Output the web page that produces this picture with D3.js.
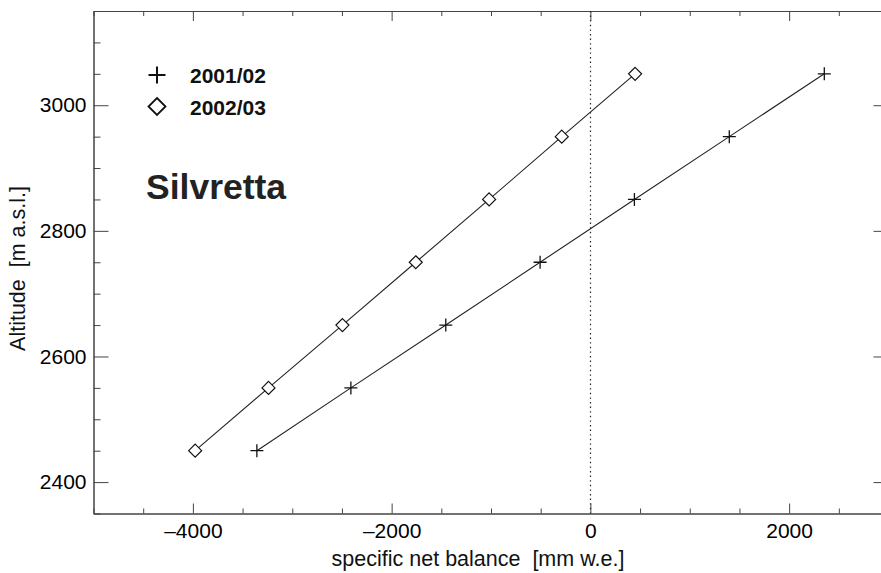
<!DOCTYPE html>
<html><head><meta charset="utf-8">
<script src="https://cdn.jsdelivr.net/npm/d3@7"></script>
<style>body{margin:0;background:#fff;overflow:hidden}</style>
</head><body><svg id="c" width="881" height="573"></svg>
<script>
const altitudes = [2450, 2550, 2650, 2750, 2850, 2950, 3050];
const balance0102 = [-3356, -2410, -1455, -506, 443, 1398, 2354];
const balance0203 = [-3977, -3239, -2495, -1757, -1019, -288, 450];
const seriesNames = ["2001/02", "2002/03"];
const xMajorTicks = [-4000, -2000, 0, 2000];
const yMajorTicks = [2400, 2600, 2800, 3000];
const xDomain = [-5000, 3000];
const yDomain = [2350, 3150];
const glacierName = "Silvretta";
const xTitle = "specific net balance  [mm w.e.]";
const yTitle = "Altitude  [m a.s.l.]";

const FONT = "'Liberation Sans', Arial, Helvetica, sans-serif";
const svg = d3.select("#c");
const L = 93.5, R = 888.5, T = 11, B = 513.5;
const x = d3.scaleLinear().domain(xDomain).range([L, R]);
const y = d3.scaleLinear().domain(yDomain).range([B, T]);

const xMinor = d3.range(xDomain[0], xDomain[1] + 1, 500).filter(v => !xMajorTicks.includes(v));
const yMinor = d3.range(yDomain[0], yDomain[1] + 1, 50).filter(v => !yMajorTicks.includes(v));

function styleAxis(g) {
  g.attr("font-family", FONT).attr("font-size", 21);
  g.selectAll("path.domain").attr("stroke", "#444").attr("stroke-width", 1);
  g.selectAll(".tick line").attr("stroke", "#444").attr("stroke-width", 1);
  g.selectAll(".tick text").attr("fill", "#000");
}
const fmt = d => d < 0 ? "\u2013" + Math.abs(d) : String(d);

// bottom
svg.append("g").attr("transform", `translate(0,${B})`)
  .call(d3.axisBottom(x).tickValues(xMajorTicks).tickSizeInner(-10).tickSizeOuter(0).tickPadding(10).tickFormat(fmt))
  .call(styleAxis);
svg.append("g").attr("transform", `translate(0,${B})`)
  .call(d3.axisBottom(x).tickValues(xMinor).tickSizeInner(-5).tickSizeOuter(0).tickFormat(""))
  .call(styleAxis);
// top
svg.append("g").attr("transform", `translate(0,${T})`)
  .call(d3.axisTop(x).tickValues(xMajorTicks).tickSizeInner(-10).tickSizeOuter(0).tickFormat(""))
  .call(styleAxis);
svg.append("g").attr("transform", `translate(0,${T})`)
  .call(d3.axisTop(x).tickValues(xMinor).tickSizeInner(-5).tickSizeOuter(0).tickFormat(""))
  .call(styleAxis);
// left
svg.append("g").attr("transform", `translate(${L},0)`)
  .call(d3.axisLeft(y).tickValues(yMajorTicks).tickSizeInner(-15).tickSizeOuter(0).tickPadding(7).tickFormat(d3.format("d")))
  .call(styleAxis);
svg.append("g").attr("transform", `translate(${L},0)`)
  .call(d3.axisLeft(y).tickValues(yMinor).tickSizeInner(-7).tickSizeOuter(0).tickFormat(""))
  .call(styleAxis);
// right
svg.append("g").attr("transform", `translate(${R},0)`)
  .call(d3.axisRight(y).tickValues(yMajorTicks).tickSizeInner(-15).tickSizeOuter(0).tickFormat(""))
  .call(styleAxis);
svg.append("g").attr("transform", `translate(${R},0)`)
  .call(d3.axisRight(y).tickValues(yMinor).tickSizeInner(-7).tickSizeOuter(0).tickFormat(""))
  .call(styleAxis);

// zero dotted line
svg.append("line")
  .attr("x1", Math.round(x(0)) + 0.5).attr("x2", Math.round(x(0)) + 0.5)
  .attr("y1", T).attr("y2", B)
  .attr("stroke", "#222").attr("stroke-width", 1.2).attr("stroke-dasharray", "1.4,3.2");

// series
const s1 = altitudes.map((a, i) => ({ b: balance0102[i], a }));
const s2 = altitudes.map((a, i) => ({ b: balance0203[i], a }));
const line = d3.line().x(d => x(d.b)).y(d => y(d.a));
[s1, s2].forEach(s => svg.append("path").attr("d", line(s)).attr("fill", "none")
  .attr("stroke", "#222").attr("stroke-width", 1.1));

function plusPath(cx, cy, r) {
  const p = d3.path();
  p.moveTo(cx - r, cy); p.lineTo(cx + r, cy);
  p.moveTo(cx, cy - r); p.lineTo(cx, cy + r);
  return p.toString();
}
function diamondPath(cx, cy, r) {
  const p = d3.path();
  p.moveTo(cx, cy - r); p.lineTo(cx + r, cy); p.lineTo(cx, cy + r); p.lineTo(cx - r, cy); p.closePath();
  return p.toString();
}
svg.append("g").selectAll("path").data(s1).join("path")
  .attr("d", d => plusPath(x(d.b), y(d.a), 6.5))
  .attr("fill", "none").attr("stroke", "#111").attr("stroke-width", 1.3);
svg.append("g").selectAll("path").data(s2).join("path")
  .attr("d", d => diamondPath(x(d.b), y(d.a), 6.5))
  .attr("fill", "#fff").attr("stroke", "#111").attr("stroke-width", 1.2);

// legend
const lg = svg.append("g");
lg.append("path").attr("d", plusPath(157, 75, 8.5)).attr("stroke", "#111").attr("stroke-width", 2).attr("fill", "none");
lg.append("path").attr("d", diamondPath(157, 106.5, 8.5)).attr("stroke", "#111").attr("stroke-width", 1.8).attr("fill", "none");
lg.selectAll("text").data(seriesNames).join("text")
  .attr("x", 190).attr("y", (d, i) => 83 + i * 31.5)
  .attr("font-family", FONT).attr("font-size", 21).attr("font-weight", "bold")
  .attr("fill", "#111").text(d => d);

// glacier name
svg.append("text").attr("x", 146).attr("y", 199)
  .attr("font-family", FONT).attr("font-size", 35.5).attr("font-weight", "bold")
  .attr("fill", "#222").text(glacierName);

// axis titles
svg.append("text").attr("x", 478).attr("y", 566).attr("text-anchor", "middle")
  .attr("font-family", FONT).attr("font-size", 21.5).attr("fill", "#111")
  .style("white-space", "pre").text(xTitle);
svg.append("text").attr("transform", "translate(25,268.5) rotate(-90)").attr("text-anchor", "middle")
  .attr("font-family", FONT).attr("font-size", 21.5).attr("fill", "#111")
  .style("white-space", "pre").text(yTitle);
</script>
</body></html>
